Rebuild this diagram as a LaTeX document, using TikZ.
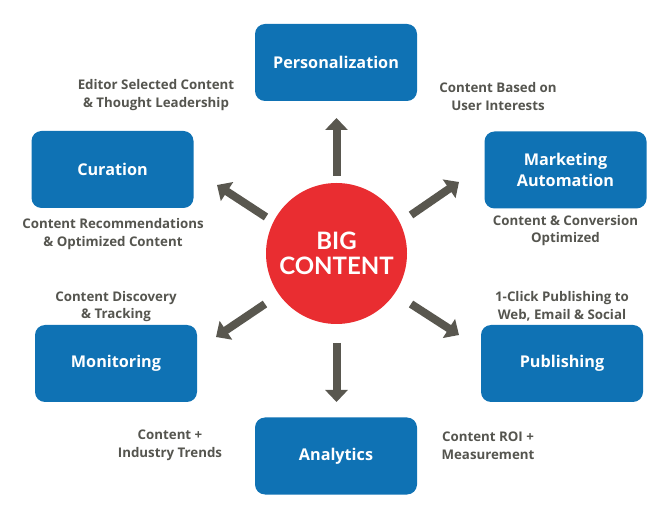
\documentclass[tikz,border=0pt]{standalone}
\usepackage{fontspec}
\setmainfont{Open Sans}
\newfontfamily\latofont{Lato}
\usetikzlibrary{arrows.meta}
\definecolor{boxblue}{HTML}{0F72B4}
\definecolor{bigred}{HTML}{E92D31}
\definecolor{arrowgray}{HTML}{59574F}
\definecolor{textgray}{HTML}{55554F}
\tikzset{
  box/.style={fill=boxblue, rounded corners=10pt, minimum width=162pt, minimum height=77pt, inner sep=0pt, text=white, align=center, font=\fontsize{16.2}{21}\selectfont\bfseries},
  lbl/.style={text=textgray, align=center, inner sep=0pt, font=\fontsize{13.3}{17.5}\selectfont\bfseries},
  bigarrow/.style={draw=arrowgray, line width=8pt, -{Triangle[width=22pt,length=12pt]}, fill=arrowgray}
}
\begin{document}
\begin{tikzpicture}[x=1pt,y=-1pt]
\useasboundingbox (0,0) rectangle (670,521);
% boxes
\node[box] (pers) at (336,62.5) {Personalization};
\node[box] (cur) at (112.5,169.5) {Curation};
\node[box] (mkt) at (565.5,170) {Marketing\\Automation};
\node[box] (mon) at (116,363.5) {Monitoring};
\node[box] (pub) at (562,363.5) {Publishing};
\node[box] (ana) at (336,456) {Analytics};
% centre
\node[circle, fill=bigred, minimum size=141pt, inner sep=0pt, text=white, align=center, font=\latofont\fontsize{24}{25}\selectfont\bfseries] (big) at (336.5,253.5) {BIG\\CONTENT};
% labels
\node[lbl] (l1) at (156,95) {Editor Selected Content\\\& Thought Leadership};
\node[lbl] (l2) at (498,96.5) {Content Based on\\User Interests};
\node[lbl] (l3) at (113,234) {Content Recommendations\\\& Optimized Content};
\node[lbl] (l4) at (565.5,230.5) {Content \& Conversion\\Optimized};
\node[lbl] (l5) at (116,306.5) {Content Discovery\\\& Tracking};
\node[lbl] (l6) at (562,306.5) {1-Click Publishing to\\Web, Email \& Social};
\node[lbl] (l7) at (170,445.5) {Content +\\Industry Trends};
\node[lbl] (l8) at (488,445.5) {Content ROI +\\Measurement};
% arrow ends
\coordinate (aus) at (336.5,176); \coordinate (aue) at (336.5,118);
\coordinate (ads) at (336.5,343); \coordinate (ade) at (336.5,402);
\coordinate (auls) at (266,217); \coordinate (aule) at (217,185);
\coordinate (aurs) at (411,215); \coordinate (aure) at (459,182);
\coordinate (alls) at (265,304); \coordinate (alle) at (216,337);
\coordinate (alrs) at (411,304); \coordinate (alre) at (459,335);
\draw[bigarrow] (aus) -- (aue);
\draw[bigarrow] (ads) -- (ade);
\draw[bigarrow] (auls) -- (aule);
\draw[bigarrow] (aurs) -- (aure);
\draw[bigarrow] (alls) -- (alle);
\draw[bigarrow] (alrs) -- (alre);
\end{tikzpicture}
\end{document}
